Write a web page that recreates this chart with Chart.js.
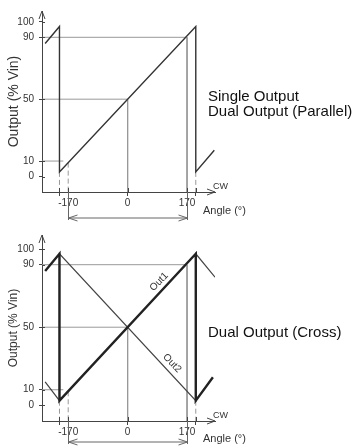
<!DOCTYPE html>
<html>
<head>
<meta charset="utf-8">
<script src="https://cdn.jsdelivr.net/npm/chart.js@4.4.0/dist/chart.umd.min.js"></script>
<style>
  html, body { margin: 0; padding: 0; background: #fff; }
  body { width: 353px; height: 446px; position: relative; overflow: hidden; font-family: "Liberation Sans", Arial, sans-serif; }
  .panel { position: absolute; left: 0; width: 353px; height: 223px; }
  .note { position: absolute; left: 208px; font-size: 15px; line-height: 15px; color: #111; white-space: nowrap; }
</style>
</head>
<body>
<div class="panel" style="top:0"><canvas id="singleChart" width="353" height="223"></canvas></div>
<div class="panel" style="top:223px"><canvas id="crossChart" width="353" height="223"></canvas></div>
<div class="note" style="top:88px">Single Output<br>Dual Output (Parallel)</div>
<div class="note" style="top:324px">Dual Output (Cross)</div>
<script>
// ---- datos ----
const angleTicks = [-195, -170, 0, 170, 195];
const angleTickLabels = ['', '-170', '0', '170', ''];
const outputTicks = [0, 10, 50, 90, 100];
const spanAngles = [-170, 170];

// Single Output / Dual Output (Parallel)
const singleAngle = [-236, -195, -195, 195, 195, 248];
const singleOut = [86, 97, 3, 97, 3, 17];

// Dual Output (Cross)
const out1Angle = [-236, -195, -195, 195, 195, 244];
const out1Value = [86, 97, 3, 97, 3, 18];
const out2Angle = [-236, -195, -195, 195, 195, 250];
const out2Value = [15, 3, 97, 3, 97, 82];

// líneas guía: [ángulo1, salida1, ángulo2, salida2]
const guideSolid = [[-245, 90, 170, 90], [-245, 50, 0, 50], [-245, 10, -184, 10], [0, 50, 0, -10], [170, 90, 170, -10]];
const guideDashed = [[-170, 9, -170, -10], [-195, 3, -195, -10], [195, 3, 195, -10]];

Chart.defaults.font.family = '"Liberation Sans", Arial, sans-serif';
const tickFont = '"Liberation Sans Narrow", "Liberation Sans", Arial, sans-serif';

function toPoints(xs, ys) {
    return xs.map((x, i) => ({ x: x, y: ys[i] }));
}

function toSegments(list) {
    const pts = [];
    list.forEach(s => {
        pts.push({ x: s[0], y: s[1] }, { x: s[2], y: s[3] }, { x: s[2], y: null });
    });
    return pts;
}

function guideDatasets() {
    return [
        { data: toSegments(guideSolid), borderColor: '#999', borderWidth: 1, showLine: true, pointRadius: 0, spanGaps: false },
        { data: toSegments(guideDashed), borderColor: '#999', borderWidth: 1, borderDash: [5, 3], showLine: true, pointRadius: 0, spanGaps: false }
    ];
}

// Plugin: flechas de ejes, marcas internas, cota y textos
const diagramPlugin = {
    id: 'diagram',
    afterDraw(chart, args, opts) {
        const { ctx, chartArea: a, scales: { x, y } } = chart;
        ctx.save();
        ctx.strokeStyle = '#444';
        ctx.lineWidth = 1;
        ctx.beginPath();
        // flecha eje Y
        ctx.moveTo(a.left - 3, a.top + 8); ctx.lineTo(a.left, a.top); ctx.lineTo(a.left + 3, a.top + 8);
        // flecha eje X
        ctx.moveTo(a.right - 8, a.bottom - 3); ctx.lineTo(a.right, a.bottom); ctx.lineTo(a.right - 8, a.bottom + 3);
        // mitad interior de las marcas
        outputTicks.forEach(v => {
            const py = Math.round(y.getPixelForValue(v)) + 0.5;
            ctx.moveTo(a.left, py); ctx.lineTo(a.left + 3, py);
        });
        angleTicks.forEach(v => {
            const px = Math.round(x.getPixelForValue(v)) + 0.5;
            ctx.moveTo(px, a.bottom); ctx.lineTo(px, a.bottom - 4);
        });
        ctx.stroke();

        // cota -170 .. 170
        const dy = a.bottom + opts.dimGap;
        const x1 = Math.round(x.getPixelForValue(spanAngles[0])) + 0.5;
        const x2 = Math.round(x.getPixelForValue(spanAngles[1])) + 0.5;
        ctx.strokeStyle = '#666';
        ctx.beginPath();
        ctx.moveTo(x1, a.bottom); ctx.lineTo(x1, dy + 2);
        ctx.moveTo(x2, a.bottom); ctx.lineTo(x2, dy + 2);
        ctx.moveTo(x1, dy); ctx.lineTo(x2, dy);
        ctx.moveTo(x1 + 9, dy - 3); ctx.lineTo(x1, dy); ctx.lineTo(x1 + 9, dy + 3);
        ctx.moveTo(x2 - 9, dy - 3); ctx.lineTo(x2, dy); ctx.lineTo(x2 - 9, dy + 3);
        ctx.stroke();

        ctx.fillStyle = '#333';
        ctx.font = '9px "Liberation Sans", Arial, sans-serif';
        ctx.fillText('CW', a.right - 2, a.bottom - 3);
        ctx.font = '11px "Liberation Sans", Arial, sans-serif';
        ctx.fillText('Angle (°)', a.right - 12, a.bottom + opts.angleGap);

        (opts.labels || []).forEach(l => {
            ctx.save();
            ctx.translate(x.getPixelForValue(l.x), y.getPixelForValue(l.y));
            ctx.rotate(l.rot * Math.PI / 180);
            ctx.font = '10px "Liberation Sans", Arial, sans-serif';
            ctx.textAlign = 'center';
            ctx.textBaseline = 'middle';
            ctx.fillText(l.text, 0, 0);
            ctx.restore();
        });
        ctx.restore();
    }
};

function crearDiagrama(id, datasets, cfg) {
    const ctx = document.getElementById(id).getContext('2d');
    return new Chart(ctx, {
        type: 'scatter',
        data: { datasets: datasets.concat(guideDatasets()) },
        options: {
            responsive: false,
            animation: false,
            devicePixelRatio: 1,
            events: [],
            layout: { padding: { top: cfg.top, right: 138, left: 0, bottom: 0 } },
            plugins: {
                legend: { display: false },
                tooltip: { enabled: false },
                diagram: cfg.diagram
            },
            scales: {
                x: {
                    type: 'linear',
                    min: -245,
                    max: 250,
                    afterBuildTicks: s => { s.ticks = angleTicks.map(v => ({ value: v })); },
                    afterFit: s => { s.height = cfg.xHeight; },
                    border: { display: true, color: '#444', width: 1 },
                    grid: { drawOnChartArea: false, drawTicks: true, tickLength: 4, color: '#444' },
                    ticks: {
                        autoSkip: false,
                        maxRotation: 0,
                        padding: 1,
                        color: '#333',
                        font: { family: tickFont, size: 10 },
                        callback: (v, i) => angleTickLabels[i]
                    }
                },
                y: {
                    type: 'linear',
                    min: -10,
                    max: cfg.yMax,
                    afterBuildTicks: s => { s.ticks = outputTicks.map(v => ({ value: v })); },
                    afterFit: s => { s.width = 42; },
                    border: { display: true, color: '#444', width: 1 },
                    grid: { drawOnChartArea: false, drawTicks: true, tickLength: 3, color: '#444' },
                    ticks: {
                        padding: 5,
                        color: '#333',
                        font: { family: tickFont, size: 10 }
                    },
                    title: {
                        display: true,
                        text: 'Output (% Vin)',
                        color: '#333',
                        font: { size: cfg.titleSize },
                        padding: { top: 6, bottom: 0 }
                    }
                }
            }
        },
        plugins: [diagramPlugin]
    });
}

crearDiagrama('singleChart', [
    { data: toPoints(singleAngle, singleOut), borderColor: '#333', borderWidth: 1.4, showLine: true, pointRadius: 0 }
], {
    top: 10, xHeight: 31, yMax: 107, titleSize: 14,
    diagram: { dimGap: 26, angleGap: 22 }
});

crearDiagrama('crossChart', [
    { data: toPoints(out1Angle, out1Value), borderColor: '#222', borderWidth: 2.4, showLine: true, pointRadius: 0 },
    { data: toPoints(out2Angle, out2Value), borderColor: '#444', borderWidth: 1.2, showLine: true, pointRadius: 0 }
], {
    top: 12, xHeight: 25, yMax: 109, titleSize: 12,
    diagram: {
        dimGap: 21, angleGap: 21,
        labels: [
            { text: 'Out1', x: 90, y: 79, rot: -46 },
            { text: 'Out2', x: 127, y: 27, rot: 46 }
        ]
    }
});
</script>
</body>
</html>
